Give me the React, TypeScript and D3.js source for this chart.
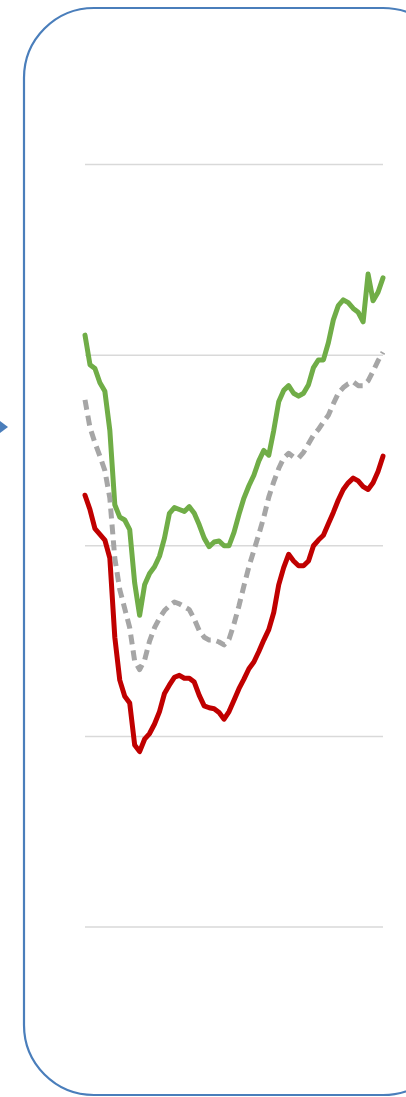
import React from "react";
import * as d3 from "d3";

// period index (evenly spaced observations)
const periods: number[] = Array.from({ length: 61 }, (_, i) => i);

const gridTicks: number[] = [-40, -20, 0, 20, 40];

const greenSeries: number[] = [
  22.1, 19.0, 18.6, 17.1, 16.2, 12.1, 4.3, 3.0, 2.7, 1.7,
  -3.9, -7.3, -4.1, -2.9, -2.2, -1.1, 0.8, 3.4, 4.0, 3.8,
  3.6, 4.1, 3.4, 2.2, 0.8, -0.1, 0.4, 0.5, 0.0, 0.0,
  1.4, 3.3, 5.0, 6.3, 7.4, 8.9, 10.0, 9.5, 12.1, 15.1,
  16.3, 16.8, 16.0, 15.7, 16.0, 16.9, 18.7, 19.5, 19.5, 21.3,
  23.7, 25.2, 25.8, 25.5, 24.9, 24.5, 23.5, 28.5, 25.7, 26.6,
  28.1,
];

const redSeries: number[] = [
  5.3, 3.8, 1.8, 1.2, 0.6, -1.3, -9.6, -14.1, -15.8, -16.5,
  -20.9, -21.6, -20.3, -19.7, -18.7, -17.4, -15.5, -14.6, -13.8, -13.6,
  -13.9, -13.9, -14.3, -15.7, -16.8, -17.0, -17.1, -17.5, -18.2, -17.4,
  -16.2, -15.0, -14.0, -12.9, -12.2, -11.1, -9.9, -8.8, -7.0, -4.1,
  -2.3, -0.9, -1.6, -2.1, -2.1, -1.6, 0.0, 0.6, 1.1, 2.3,
  3.5, 4.8, 5.9, 6.6, 7.1, 6.8, 6.2, 5.9, 6.6, 7.8,
  9.4,
];

const graySeries: number[] = [
  15.3, 12.4, 10.8, 9.4, 7.9, 5.0, -1.3, -4.6, -6.6, -8.6,
  -12.1, -13.0, -12.0, -10.0, -8.6, -7.6, -6.8, -6.3, -5.9, -6.1,
  -6.4, -6.7, -7.7, -8.9, -9.6, -9.9, -9.9, -10.1, -10.4, -9.8,
  -8.2, -6.3, -4.2, -2.2, -0.5, 1.2, 3.0, 5.1, 6.7, 8.1,
  9.2, 9.7, 9.3, 9.2, 9.8, 10.7, 11.6, 12.2, 13.0, 13.7,
  14.9, 16.0, 16.6, 17.0, 17.2, 16.8, 16.8, 17.3, 18.3, 19.4,
  20.3,
];

export default function App() {
  const W = 406;
  const H = 1097;
  const x = d3.scaleLinear().domain([0, periods.length - 1]).range([85, 383]);
  const y = d3.scaleLinear().domain([-40, 40]).range([927, 164.5]);

  const lineGen = (vals: number[]) =>
    d3
      .line<number>()
      .x((_, i) => x(periods[i]))
      .y((v) => y(v))
      .curve(d3.curveLinear)(vals) || "";

  return (
    <svg
      width={W}
      height={H}
      viewBox={`0 0 ${W} ${H}`}
      style={{ position: "absolute", left: 0, top: 0, background: "#ffffff" }}
    >
      <rect x={0} y={0} width={W} height={H} fill="#ffffff" />
      {/* connector arrow head */}
      <polygon points="0,421 8,427 0,433" fill="#4a7ebb" />
      {/* rounded frame */}
      <rect
        x={24}
        y={8}
        width={429}
        height={1087}
        rx={70}
        ry={70}
        fill="none"
        stroke="#4a7ebb"
        strokeWidth={2.2}
      />
      {/* gridlines */}
      {gridTicks.map((t) => (
        <line
          key={t}
          x1={85}
          x2={383}
          y1={y(t)}
          y2={y(t)}
          stroke="#d9d9d9"
          strokeWidth={1.5}
        />
      ))}
      <path
        d={lineGen(greenSeries)}
        fill="none"
        stroke="#70ad47"
        strokeWidth={5}
        strokeLinejoin="round"
        strokeLinecap="round"
      />
      <path
        d={lineGen(redSeries)}
        fill="none"
        stroke="#c00000"
        strokeWidth={5}
        strokeLinejoin="round"
        strokeLinecap="round"
      />
      <path
        d={lineGen(graySeries)}
        fill="none"
        stroke="#a6a6a6"
        strokeWidth={5}
        strokeDasharray="10,6"
        strokeLinejoin="round"
      />
    </svg>
  );
}
